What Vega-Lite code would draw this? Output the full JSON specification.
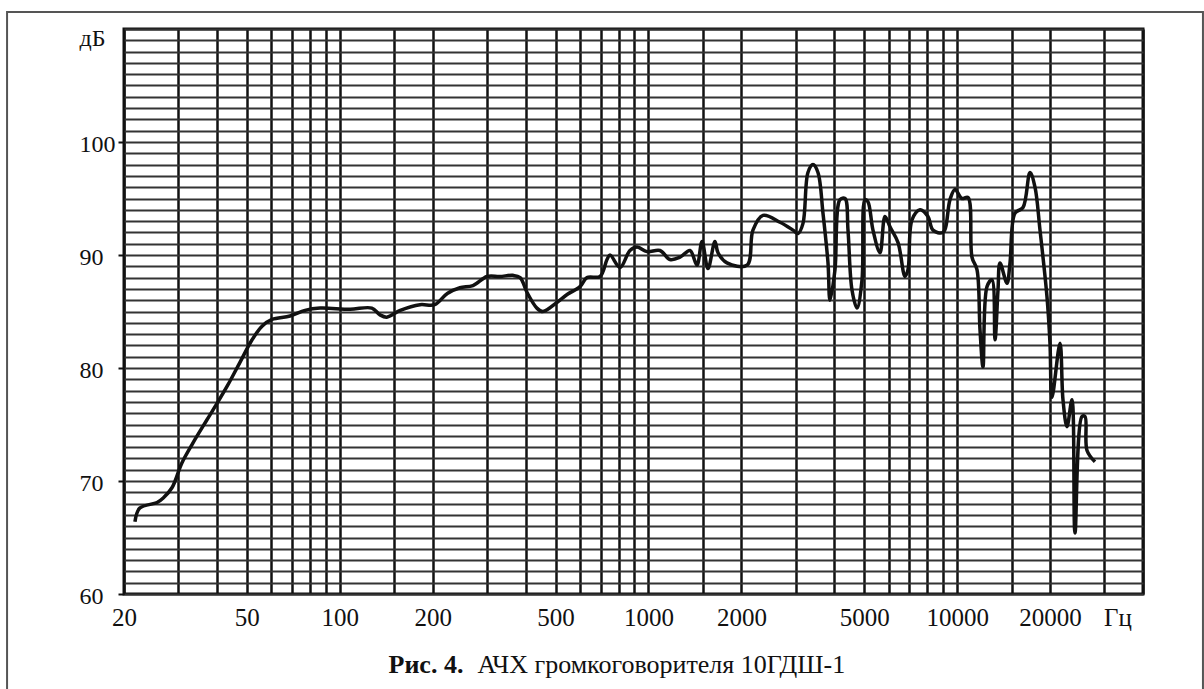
{
  "$schema": "https://vega.github.io/schema/vega-lite/v6.json",
  "width": 1019,
  "height": 565,
  "autosize": {"type": "none"},
  "padding": {"left": 124, "top": 29, "right": 61, "bottom": 95},
  "background": "white",
  "config": {"font": "Liberation Serif", "view": {"stroke": "#111", "strokeWidth": 3}},
  "data": {"values": [
    {"i":1,"f":21.7,"db":66.4},{"i":2,"f":22.5,"db":67.6},{"i":3,"f":25.6,"db":68.1},{"i":4,"f":26.8,"db":68.5},
    {"i":5,"f":28.6,"db":69.4},{"i":6,"f":30.8,"db":71.6},{"i":7,"f":33.5,"db":73.4},{"i":8,"f":37.1,"db":75.4},
    {"i":9,"f":40.3,"db":77.0},{"i":10,"f":43.4,"db":78.5},{"i":11,"f":47.5,"db":80.5},{"i":12,"f":52.0,"db":82.5},
    {"i":13,"f":56.0,"db":83.7},{"i":14,"f":60.3,"db":84.3},{"i":15,"f":69.0,"db":84.6},{"i":16,"f":77.2,"db":85.1},
    {"i":17,"f":86.3,"db":85.3},{"i":18,"f":108,"db":85.2},{"i":19,"f":127,"db":85.3},{"i":20,"f":135,"db":84.7},
    {"i":21,"f":142,"db":84.5},{"i":22,"f":157,"db":85.1},{"i":23,"f":182,"db":85.6},{"i":24,"f":203,"db":85.6},
    {"i":25,"f":223,"db":86.6},{"i":26,"f":245,"db":87.1},{"i":27,"f":270,"db":87.3},{"i":28,"f":300,"db":88.1},
    {"i":29,"f":330,"db":88.1},{"i":30,"f":364,"db":88.2},{"i":31,"f":384,"db":88.0},{"i":32,"f":404,"db":86.7},
    {"i":33,"f":435,"db":85.3},{"i":34,"f":455,"db":85.0},{"i":35,"f":505,"db":85.8},{"i":36,"f":545,"db":86.5},
    {"i":37,"f":600,"db":87.2},{"i":38,"f":632,"db":88.0},{"i":39,"f":697,"db":88.1},{"i":40,"f":734,"db":89.6},
    {"i":41,"f":751,"db":90.0},{"i":42,"f":809,"db":88.9},{"i":43,"f":871,"db":90.4},{"i":44,"f":918,"db":90.7},
    {"i":45,"f":989,"db":90.3},{"i":46,"f":1090,"db":90.4},{"i":47,"f":1174,"db":89.6},{"i":48,"f":1265,"db":89.8},
    {"i":49,"f":1363,"db":90.4},{"i":50,"f":1436,"db":89.1},{"i":51,"f":1491,"db":91.2},{"i":52,"f":1559,"db":88.8},
    {"i":53,"f":1642,"db":91.2},{"i":54,"f":1680,"db":90.2},{"i":55,"f":1796,"db":89.3},{"i":56,"f":2086,"db":89.1},
    {"i":57,"f":2180,"db":92.2},{"i":58,"f":2350,"db":93.5},{"i":59,"f":2668,"db":92.9},{"i":60,"f":2940,"db":92.2},
    {"i":61,"f":3051,"db":91.9},{"i":62,"f":3167,"db":92.8},{"i":63,"f":3286,"db":97.3},{"i":64,"f":3412,"db":98.0},
    {"i":65,"f":3541,"db":97.3},{"i":66,"f":3676,"db":93.7},{"i":67,"f":3816,"db":89.3},{"i":68,"f":3873,"db":86.0},
    {"i":69,"f":4020,"db":88.7},{"i":70,"f":4173,"db":94.9},{"i":71,"f":4332,"db":95.0},{"i":72,"f":4430,"db":92.2},
    {"i":73,"f":4564,"db":86.9},{"i":74,"f":4738,"db":85.3},{"i":75,"f":4918,"db":87.8},{"i":76,"f":5029,"db":94.9},
    {"i":77,"f":5143,"db":94.7},{"i":78,"f":5338,"db":92.2},{"i":79,"f":5624,"db":90.2},{"i":80,"f":5838,"db":93.4},
    {"i":81,"f":6060,"db":92.5},{"i":82,"f":6435,"db":91.1},{"i":83,"f":6776,"db":88.1},{"i":84,"f":6930,"db":88.7},
    {"i":85,"f":7140,"db":93.1},{"i":86,"f":7580,"db":94.0},{"i":87,"f":8046,"db":93.4},{"i":88,"f":8352,"db":92.2},
    {"i":89,"f":9000,"db":92.0},{"i":90,"f":9480,"db":94.9},{"i":91,"f":9838,"db":95.8},{"i":92,"f":10366,"db":95.0},
    {"i":93,"f":10842,"db":95.1},{"i":94,"f":11170,"db":89.8},{"i":95,"f":11594,"db":88.7},{"i":96,"f":11858,"db":83.4},
    {"i":97,"f":12126,"db":80.1},{"i":98,"f":12494,"db":87.2},{"i":99,"f":12968,"db":87.8},{"i":100,"f":13262,"db":82.5},
    {"i":101,"f":13562,"db":86.9},{"i":102,"f":13766,"db":89.3},{"i":103,"f":14504,"db":87.5},{"i":104,"f":14832,"db":89.3},
    {"i":105,"f":15396,"db":93.7},{"i":106,"f":16342,"db":94.2},{"i":107,"f":17218,"db":97.3},{"i":108,"f":17872,"db":96.0},
    {"i":109,"f":18552,"db":92.2},{"i":110,"f":19544,"db":86.3},{"i":111,"f":19986,"db":82.2},{"i":112,"f":20288,"db":77.4},
    {"i":113,"f":21534,"db":82.2},{"i":114,"f":22020,"db":77.2},{"i":115,"f":22688,"db":74.8},{"i":116,"f":23550,"db":77.2},
    {"i":117,"f":24082,"db":65.4},{"i":118,"f":25374,"db":75.7},{"i":119,"f":25950,"db":75.7},{"i":120,"f":26342,"db":72.7},
    {"i":121,"f":27960,"db":71.7}
  ]},
  "layer": [
    {
      "data": {"values": [{}]},
      "mark": {"type": "rect", "fill": "white", "fillOpacity": 0, "stroke": "#555", "strokeWidth": 2},
      "encoding": {
        "x": {"datum": 8.36, "type": "quantitative", "title": "АЧХ громкоговорителя 10ГДШ-1"},
        "x2": {"datum": 62560},
        "y": {"datum": 111.5, "type": "quantitative", "title": "Рис. 4."},
        "y2": {"datum": 50.6}
      }
    },
    {
      "mark": {"type": "line", "color": "#111", "strokeWidth": 3.5, "interpolate": "catmull-rom"},
      "encoding": {
        "order": {"field": "i", "type": "quantitative"},
        "x": {
          "field": "f", "type": "quantitative", "title": "АЧХ громкоговорителя 10ГДШ-1",
          "scale": {"type": "log", "domain": [20, 40000], "nice": false},
          "axis": {
            "values": [20,30,40,50,60,70,80,90,100,150,200,300,400,500,600,700,800,900,1000,1500,2000,3000,4000,5000,6000,7000,8000,9000,10000,15000,20000,30000,40000],
            "tickCount": 1000,
            "format": "d",
            "labelExpr": "indexof([20,50,100,200,500,1000,2000,5000,10000,20000], datum.value) >= 0 ? datum.label : (datum.value == 30000 ? 'Гц' : '')",
            "grid": true, "gridColor": "#111", "gridWidth": 2.5,
            "domain": false, "ticks": false,
            "labelPadding": 11, "labelFontSize": 25, "labelColor": "#111",
            "labelFlush": false, "labelOverlap": false,
            "labelOffset": {"condition": {"test": "datum.value == 30000", "value": 13}, "value": 0},
            "titleX": 353, "titleY": 78, "titleAlign": "left", "titleBaseline": "alphabetic",
            "titleFontSize": 26, "titleFontWeight": "normal", "titleColor": "#111", "titleFont": "Liberation Serif"
          }
        },
        "y": {
          "field": "db", "type": "quantitative", "title": "Рис. 4.",
          "scale": {"domain": [60, 110], "nice": false, "zero": false},
          "axis": {
            "values": [60,61,62,63,64,65,66,67,68,69,70,71,72,73,74,75,76,77,78,79,80,81,82,83,84,85,86,87,88,89,90,91,92,93,94,95,96,97,98,99,100,101,102,103,104,105,106,107,108,109,110],
            "tickCount": 1000,
            "format": "d",
            "labelExpr": "datum.value == 110 ? 'дБ' : (datum.value % 10 == 0 ? datum.label : '')",
            "grid": true, "gridColor": "#333", "gridWidth": 2,
            "domain": false, "ticks": true, "tickSize": 6, "tickColor": "#111", "tickWidth": 2,
            "tickOpacity": {"condition": {"test": "datum.value % 10 == 0 && datum.value < 110", "value": 1}, "value": 0},
            "labelAlign": "left", "labelPadding": 39, "labelFontSize": 24, "labelColor": "#111",
            "labelOverlap": false, "labelFlush": false,
            "labelOffset": {"condition": {"test": "datum.value == 110", "value": 9}, "value": 2},
            "titleAngle": 0, "titleX": 264, "titleY": 643, "titleAlign": "left", "titleBaseline": "alphabetic",
            "titleFontSize": 26, "titleFontWeight": "bold", "titleColor": "#111", "titleFont": "Liberation Serif"
          }
        }
      }
    }
  ]
}
